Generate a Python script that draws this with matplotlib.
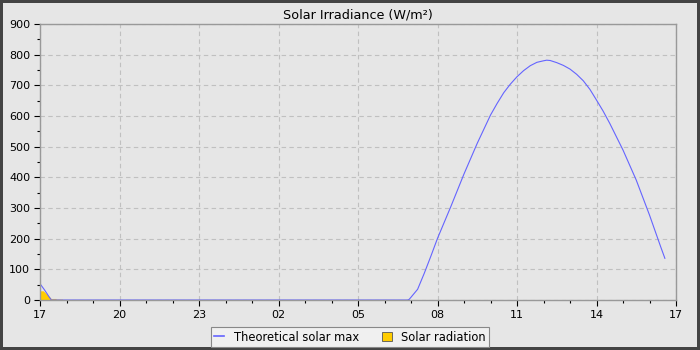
import matplotlib
matplotlib.use('Agg')
import matplotlib.pyplot as plt
from matplotlib.lines import Line2D
from matplotlib.patches import Patch
from matplotlib.ticker import MultipleLocator

# hours since 17:00 on the first day
max_hours = [0, 0.17, 0.33, 0.43, 13.87, 13.93, 14.0, 14.25, 14.5, 14.75, 15.0,
             15.5, 16.0, 16.5, 17.0, 17.25, 17.5, 17.75, 18.0, 18.25, 18.5,
             18.75, 19.0, 19.12, 19.25, 19.5, 19.75, 20.0, 20.25, 20.5, 20.75,
             21.0, 21.25, 21.5, 22.0, 22.5, 23.0, 23.42, 23.58]
max_values = [53, 33, 12, 0, 0, 2, 9, 35, 87, 143, 201,
              304, 411, 511, 603, 641, 676, 704, 728, 748, 764,
              775, 780, 782, 781, 774, 765, 753, 736, 715, 687,
              652, 616, 576, 489, 391, 277, 174, 136]

rad_hours = [0, 0.12, 0.4, 0.41, 0.6, 0.61, 0.85, 0.86, 24]
rad_values = [30, 30, 7, 5, 5, 3, 3, 0, 0]

tick_hours = [0, 3, 6, 9, 12, 15, 18, 21, 24]
tick_labels = ['17', '20', '23', '02', '05', '08', '11', '14', '17']

bg = '#e6e6e6'
line_col = '#6464ff'
fill_col = '#ffcc00'

plt.rcParams['font.family'] = 'DejaVu Sans'
plt.rcParams['font.size'] = 8

fig = plt.figure(figsize=(7, 3.5), dpi=100, facecolor=bg, edgecolor='#444444')
fig.patch.set_linewidth(3)
ax = fig.add_axes([40/700, 50/350, 636/700, 276/350])
ax.set_facecolor(bg)

ax.fill_between(rad_hours, rad_values, 0, color=fill_col, lw=0)
ax.plot(max_hours, max_values, color=line_col, lw=0.8)

ax.set_xlim(0, 24)
ax.set_ylim(0, 900)
ax.set_xticks(tick_hours)
ax.set_xticklabels(tick_labels)
ax.xaxis.set_minor_locator(MultipleLocator(1))
ax.yaxis.set_major_locator(MultipleLocator(100))
ax.yaxis.set_minor_locator(MultipleLocator(50))
ax.tick_params(which='major', length=4, width=0.8, color='black', pad=3)
ax.tick_params(which='minor', length=2.5, width=0.8, color='black')
for s in ax.spines.values():
    s.set_color('#999999')
    s.set_linewidth(1)
ax.grid(True, which='major', color='#c0c0c0', ls=(0, (4, 3)), lw=0.8)
ax.set_axisbelow(True)

ax.set_title('Solar Irradiance (W/m²)', fontsize=9.2, pad=4)

handles = [Line2D([], [], color=line_col, lw=1.2),
           Patch(facecolor=fill_col, edgecolor='#555555', lw=0.6)]
leg = fig.legend(handles, ['Theoretical solar max', 'Solar radiation'],
                 loc='lower center', bbox_to_anchor=(0.5, 0.0), ncol=2,
                 frameon=True, fancybox=False, fontsize=8.3,
                 handlelength=0.9, handleheight=0.8, columnspacing=2.0,
                 borderpad=0.3, handletextpad=0.8, borderaxespad=0.25)
leg.get_frame().set_facecolor('#f0f0f0')
leg.get_frame().set_edgecolor('#888888')
leg.get_frame().set_linewidth(0.8)
leg.get_frame().set_alpha(1)

fig.savefig('out.png', dpi=100)
